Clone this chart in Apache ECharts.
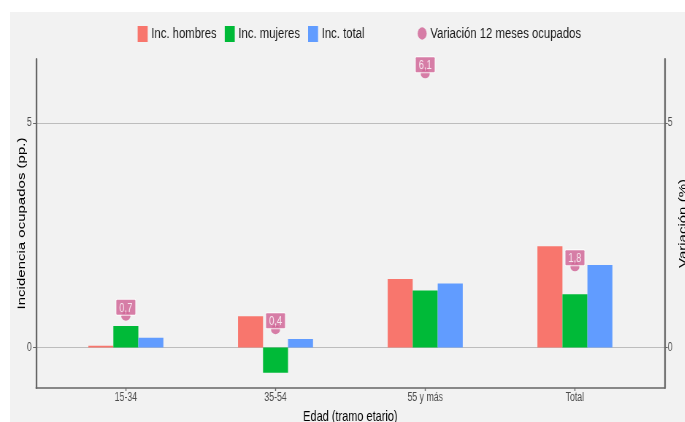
<!DOCTYPE html>
<html>
<head>
<meta charset="utf-8">
<title>Incidencia ocupados</title>
<script src="https://cdn.jsdelivr.net/npm/echarts@6/dist/echarts.min.js"></script>
<style>
html,body{margin:0;padding:0;background:#fff;overflow:hidden;width:685px;height:422px;}
#fondo{position:absolute;left:10px;top:12px;width:675px;height:410px;background:#f2f2f2;}
/* el original esta comprimido en horizontal: se dibuja ancho y se escala */
#grafico{position:absolute;left:0;top:0;width:938px;height:422px;transform:scaleX(0.73);transform-origin:0 0;}
</style>
</head>
<body>
<div id="fondo"></div>
<div id="grafico"></div>
<script>
// datos (pp. / %)
var tramos = ['15-34', '35-54', '55 y más', 'Total'];
var incHombres = [0.04, 0.70, 1.53, 2.26];
var incMujeres = [0.48, -0.56, 1.27, 1.19];
var incTotal = [0.22, 0.19, 1.43, 1.84];
var variacion = [0.7, 0.4, 6.1, 1.8];
var marcasY = [0, 5];

var yMin = -0.9, yMax = 6.43;
var k = 0.73; // compresion horizontal (igual que el css)
var fuente = 'Liberation Sans';
var colorEje = '#666666';
var colorPunto = '#CE5F92';

var myChart = echarts.init(document.getElementById('grafico'));

function ejeY(pos, nombre, conGrid) {
	return {
		type: 'value',
		gridIndex: 0,
		position: pos,
		min: yMin,
		max: yMax,
		name: nombre,
		nameLocation: 'middle',
		nameMoveOverlap: false,
		nameGap: pos == 'left' ? 12 : 18,
		nameRotate: 90,
		nameTextStyle: { color: '#000', fontSize: 15, fontFamily: fuente },
		axisLine: { show: true, lineStyle: { color: colorEje, width: 1.6 / k } },
		axisTick: { show: true, length: 3 / k, customValues: marcasY, lineStyle: { color: colorEje } },
		axisLabel: { customValues: marcasY, color: '#4d4d4d', fontSize: 12, margin: pos == 'left' ? 6 : 4, fontFamily: fuente },
		splitLine: { show: conGrid, lineStyle: { color: '#bdbdbd', width: 1 } }
	};
}

function barra(nombre, datos, color) {
	return {
		name: nombre,
		type: 'bar',
		xAxisIndex: 1,
		yAxisIndex: 2,
		barWidth: 25 / k,
		barGap: '0%',
		itemStyle: { color: color },
		data: datos
	};
}

myChart.setOption({
	animation: false,
	backgroundColor: 'transparent',
	textStyle: { fontFamily: fuente },
	legend: [{
		left: 134 / k,
		top: 21,
		icon: 'rect',
		itemWidth: 10 / k,
		itemHeight: 16,
		itemGap: 11,
		textStyle: { color: '#1a1a1a', fontSize: 15.5 },
		data: ['Inc. hombres', 'Inc. mujeres', 'Inc. total']
	}, {
		left: 414 / k,
		top: 20.5,
		icon: 'circle',
		itemWidth: 9 / k,
		itemHeight: 13,
		textStyle: { color: '#1a1a1a', fontSize: 15.5 },
		data: ['Variación 12 meses ocupados']
	}],
	// grid 0 = marco del panel, grid 1 = categorias (con margen como ggplot)
	grid: [
		{ left: 36 / k, right: 20 / k, top: 59, bottom: 34, outerBoundsMode: 'none' },
		{ left: 51 / k, right: 35 / k, top: 59, bottom: 34, outerBoundsMode: 'none' }
	],
	xAxis: [{
		type: 'category',
		gridIndex: 0,
		data: tramos,
		axisLine: { onZero: false, lineStyle: { color: colorEje, width: 1.6 } },
		axisTick: { show: false },
		axisLabel: { show: false },
		splitLine: { show: false }
	}, {
		type: 'category',
		gridIndex: 1,
		data: tramos,
		name: 'Edad (tramo etario)',
		nameLocation: 'middle',
		nameMoveOverlap: false,
		nameGap: 21,
		nameTextStyle: { color: '#000', fontSize: 15, fontFamily: fuente },
		axisLine: { show: false, onZero: false },
		axisTick: { show: true, alignWithLabel: true, length: 3, lineStyle: { color: colorEje, width: 1 / k } },
		axisLabel: { color: '#4d4d4d', fontSize: 12, margin: 4 },
		splitLine: { show: false }
	}],
	yAxis: [
		ejeY('left', 'Incidencia ocupados (pp.)', true),
		ejeY('right', 'Variación (%)', false),
		{ type: 'value', gridIndex: 1, min: yMin, max: yMax, show: false, splitLine: { show: false } }
	],
	series: [
		barra('Inc. hombres', incHombres, '#F8766D'),
		barra('Inc. mujeres', incMujeres, '#00BA38'),
		barra('Inc. total', incTotal, '#619CFF'),
		{
			name: 'Variación 12 meses ocupados',
			type: 'scatter',
			xAxisIndex: 1,
			yAxisIndex: 2,
			symbolSize: [9 / k, 9],
			z: 5,
			itemStyle: { color: colorPunto },
			label: {
				show: true,
				position: 'top',
				distance: -3,
				color: '#fff',
				fontSize: 13,
				lineHeight: 13,
				backgroundColor: colorPunto,
				borderColor: '#fff',
				borderWidth: 1,
				borderRadius: 1,
				padding: [2, 4, 0, 4],
				formatter: function (p) {
					return p.value.toFixed(1).replace('.', ',');
				}
			},
			data: variacion
		}
	]
});
</script>
</body>
</html>
